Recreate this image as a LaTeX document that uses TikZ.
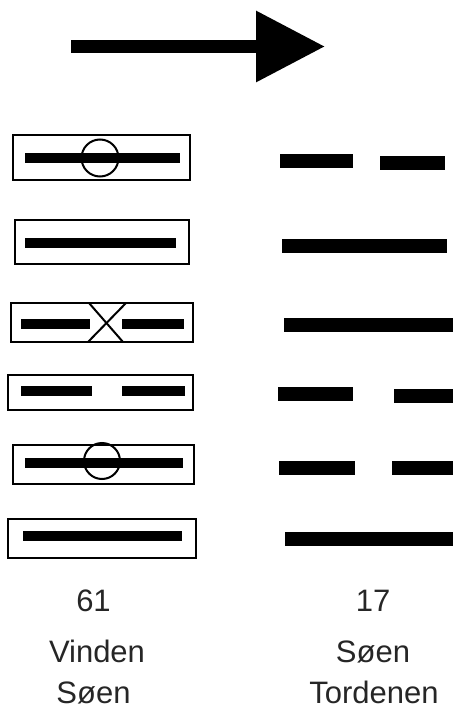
\documentclass[tikz,border=0pt]{standalone}
\usepackage{fontspec}
\setmainfont{Liberation Sans}
\usetikzlibrary{arrows.meta}

\begin{document}
\begin{tikzpicture}[x=1pt, y=-1pt,
    linebox/.style={draw, line width=2.5pt, inner sep=0pt},
    bar/.style={line width=10pt},
    rbar/.style={line width=14pt},
    label/.style={font=\fontsize{31}{36}\selectfont, text=black!85, anchor=base, inner sep=0pt}]
    \useasboundingbox (0,0) rectangle (454,711);

    % direction arrow
    \coordinate (from) at (71,46.5);
    \coordinate (to) at (325,46.5);
    \draw[line width=13pt, -{Triangle[length=69pt, width=68pt]}] (from) -- (to);

    % left column
    \node[linebox, minimum width=177pt, minimum height=45pt] (l1) at (101.5,157.5) {};
    \draw[bar] (25,158) -- (180,158);
    \draw[line width=2pt] (100,158) circle (18.5);

    \node[linebox, minimum width=174pt, minimum height=44pt] (l2) at (102,242) {};
    \draw[bar] (25,243) -- (176,243);

    \node[linebox, minimum width=182pt, minimum height=39pt] (l3) at (102,322.5) {};
    \draw[bar] (21,323.5) -- (90,323.5);
    \draw[bar] (122,323.5) -- (184,323.5);
    \draw[line width=2pt] (89,303) -- (123,342);
    \draw[line width=2pt] (126,303) -- (88,342);

    \node[linebox, minimum width=185pt, minimum height=35pt] (l4) at (100.5,392.5) {};
    \draw[bar] (21,391) -- (92,391);
    \draw[bar] (122,391) -- (185,391);

    \node[linebox, minimum width=181pt, minimum height=39pt] (l5) at (103.5,464.5) {};
    \draw[bar] (25,463) -- (183,463);
    \draw[line width=2pt] (102,461) circle (18);

    \node[linebox, minimum width=188pt, minimum height=39pt] (l6) at (102,538.5) {};
    \draw[bar] (23,536) -- (182,536);

    % right column
    \draw[rbar] (280,161) -- (353,161);
    \draw[rbar] (380,163) -- (445,163);
    \draw[rbar] (282,246) -- (447,246);
    \draw[rbar] (284,325) -- (453,325);
    \draw[rbar] (278,394) -- (353,394);
    \draw[rbar] (394,395.5) -- (453,395.5);
    \draw[rbar] (279,467.5) -- (355,467.5);
    \draw[rbar] (392,467.5) -- (453,467.5);
    \draw[rbar] (285,539) -- (453,539);

    % names
    \node[label] (num1) at (93.5,611) {61};
    \node[label] (upper1) at (97,662) {Vinden};
    \node[label] (lower1) at (93.5,703) {Søen};
    \node[label] (num2) at (373,611) {17};
    \node[label] (upper2) at (373,662) {Søen};
    \node[label] (lower2) at (374,703) {Tordenen};
\end{tikzpicture}
\end{document}
